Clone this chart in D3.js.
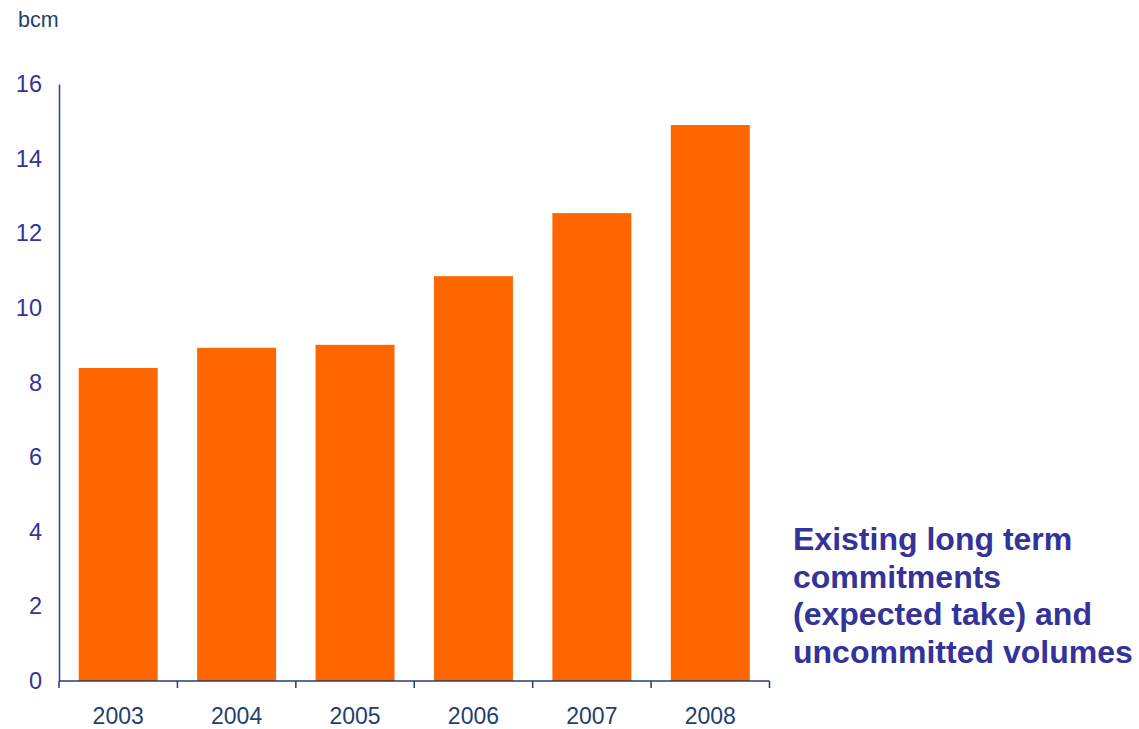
<!DOCTYPE html>
<html>
<head>
<meta charset="utf-8">
<script src="https://cdn.jsdelivr.net/npm/d3@7"></script>
<style>
  html, body { margin: 0; padding: 0; background: #ffffff; }
  svg { display: block; }
  text { font-family: "Liberation Sans", Arial, sans-serif; }
</style>
</head>
<body>
<svg id="chart" width="1139" height="729"></svg>
<script>
// Annual volumes, bcm
const years = ["2003", "2004", "2005", "2006", "2007", "2008"];
const volumes = [8.39, 8.93, 9.01, 10.85, 12.54, 14.9];
const yTicks = [0, 2, 4, 6, 8, 10, 12, 14, 16];
const unitLabel = "bcm";
const noteLines = [
  "Existing long term",
  "commitments",
  "(expected take) and",
  "uncommitted volumes"
];

const svg = d3.select("#chart");
const plot = { left: 59, right: 769.5, top: 84, bottom: 681 };

const x = d3.scaleBand()
  .domain(years)
  .range([plot.left, plot.right])
  .paddingInner(0.333)
  .paddingOuter(0.1665);

const y = d3.scaleLinear()
  .domain([0, 16])
  .range([plot.bottom, plot.top]);

// Bars
svg.append("g")
  .selectAll("rect")
  .data(years.map((yr, i) => ({ yr, v: volumes[i] })))
  .join("rect")
  .attr("x", d => x(d.yr))
  .attr("width", x.bandwidth())
  .attr("y", d => y(d.v))
  .attr("height", d => y(0) - y(d.v))
  .attr("fill", "#ff6600");

// Y axis: line plus labels, no tick marks
const yAxis = svg.append("g")
  .attr("transform", `translate(${plot.left},0)`)
  .call(d3.axisLeft(y).tickValues(yTicks).tickSize(0).tickPadding(17).tickFormat(d3.format("d")));
yAxis.select(".domain").attr("stroke", "#3333aa").attr("stroke-width", 1.5);
yAxis.selectAll("text")
  .attr("fill", "#333399")
  .style("font-size", "23.5px");

// X axis: boundary ticks between categories
const xAxisG = svg.append("g").attr("transform", `translate(0,${plot.bottom})`);
xAxisG.append("line")
  .attr("x1", plot.left).attr("x2", plot.right)
  .attr("y1", 0).attr("y2", 0)
  .attr("stroke", "#1f3f6f").attr("stroke-width", 1.5);
const step = x.step();
const boundaries = years.map(yr => x(yr) - x.paddingOuter() * step).concat([plot.right]);
xAxisG.selectAll("line.tick")
  .data(boundaries)
  .join("line")
  .attr("class", "tick")
  .attr("x1", d => d).attr("x2", d => d)
  .attr("y1", 0).attr("y2", 7)
  .attr("stroke", "#1f3f6f").attr("stroke-width", 1.5);
xAxisG.selectAll("text")
  .data(years)
  .join("text")
  .attr("x", d => x(d) + x.bandwidth() / 2)
  .attr("y", 43)
  .attr("text-anchor", "middle")
  .attr("fill", "#1f3f6f")
  .style("font-size", "23px")
  .text(d => d);

// Unit label
svg.append("text")
  .attr("x", 18)
  .attr("y", 27)
  .attr("fill", "#1f3f6f")
  .style("font-size", "21.5px")
  .text(unitLabel);

// Side note, slightly widened lettering
svg.append("g")
  .attr("transform", "translate(793,0) scale(1.05,1)")
  .selectAll("text")
  .data(noteLines)
  .join("text")
  .attr("x", 0)
  .attr("y", (d, i) => 550 + i * 37.7)
  .attr("fill", "#333399")
  .style("font-size", "30.5px")
  .style("font-weight", "bold")
  .text(d => d);
</script>
</body>
</html>
